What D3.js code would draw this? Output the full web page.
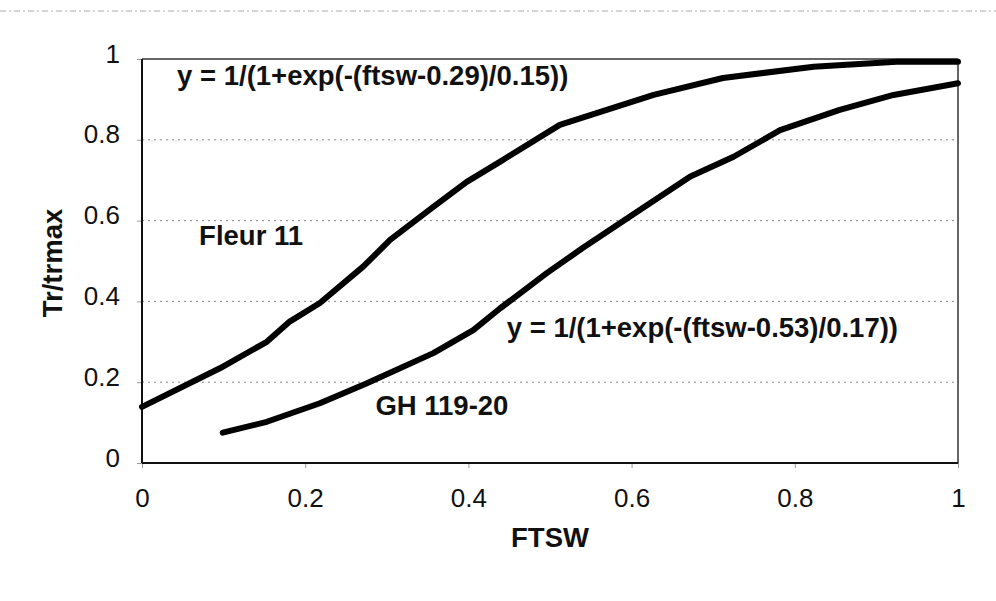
<!DOCTYPE html>
<html>
<head>
<meta charset="utf-8">
<script src="https://cdn.jsdelivr.net/npm/d3@7"></script>
<style>
  body { margin: 0; background: #fff; }
  .tickText { font-family: "Liberation Sans", Arial, sans-serif; font-size: 26px; fill: #111; }
  .boldText { font-family: "Liberation Sans", Arial, sans-serif; font-size: 27.5px; font-weight: bold; fill: #111; }
  .grid { stroke: #888; stroke-width: 1; stroke-dasharray: 2,4; }
  .curve { fill: none; stroke: #000; stroke-width: 6; stroke-linejoin: round; stroke-linecap: round; }
</style>
</head>
<body>
<div id="chart"></div>
<script>

// axis ticks
var xTicks = [0, 0.2, 0.4, 0.6, 0.8, 1];
var yTicks = [0, 0.2, 0.4, 0.6, 0.8, 1];

// Fleur 11 curve
var fleurX = [0, 0.096, 0.153, 0.181, 0.218, 0.271, 0.304, 0.357, 0.398, 0.439, 0.512, 0.627, 0.712, 0.823, 0.925, 1.0];
var fleurY = [0.139, 0.235, 0.30, 0.35, 0.396, 0.486, 0.552, 0.634, 0.696, 0.746, 0.837, 0.911, 0.953, 0.981, 0.993, 0.993];

// GH 119-20 curve
var ghX = [0.099, 0.153, 0.218, 0.275, 0.357, 0.406, 0.439, 0.496, 0.54, 0.61, 0.672, 0.725, 0.782, 0.855, 0.921, 1.0];
var ghY = [0.075, 0.102, 0.148, 0.197, 0.272, 0.329, 0.383, 0.47, 0.532, 0.626, 0.709, 0.758, 0.824, 0.874, 0.911, 0.94];

// labels in the plot
var labels = [
  {text: "y = 1/(1+exp(-(ftsw-0.29)/0.15))", fx: 0.043, fy: 0.935},
  {text: "Fleur 11", fx: 0.070, fy: 0.540},
  {text: "GH 119-20", fx: 0.286, fy: 0.119},
  {text: "y = 1/(1+exp(-(ftsw-0.53)/0.17))", fx: 0.447, fy: 0.312}
];

var margin = {top: 59, right: 38, bottom: 138, left: 142};
var width = 996 - margin.left - margin.right,
    height = 601 - margin.top - margin.bottom;

var svg = d3.select("#chart").append("svg")
    .attr("width", 996)
    .attr("height", 601);

// faint scan line at the top of the page
svg.append("line")
    .attr("x1", 0).attr("x2", 996)
    .attr("y1", 11).attr("y2", 11)
    .attr("stroke", "#aaa")
    .attr("stroke-dasharray", "6,3,2,3");

var g = svg.append("g")
    .attr("transform", "translate(" + margin.left + "," + margin.top + ")");

var x = d3.scaleLinear().domain([0, 1]).range([0, width]);
var y = d3.scaleLinear().domain([0, 1]).range([height, 0]);

// gridlines
g.selectAll(".grid")
    .data(yTicks.filter(function(d) { return d > 0 && d < 1; }))
    .enter().append("line")
    .attr("class", "grid")
    .attr("x1", 0).attr("x2", width)
    .attr("y1", function(d) { return y(d); })
    .attr("y2", function(d) { return y(d); });

// axes
var xAxis = d3.axisBottom(x).tickValues(xTicks).tickSize(5).tickPadding(20)
    .tickFormat(function(d) { return d3.format("")(d); });
var yAxis = d3.axisLeft(y).tickValues(yTicks).tickSize(5).tickPadding(17)
    .tickFormat(function(d) { return d3.format("")(d); });

var gx = g.append("g")
    .attr("transform", "translate(0," + height + ")")
    .call(xAxis);
var gy = g.append("g").call(yAxis);

[gx, gy].forEach(function(a) {
  a.select(".domain").remove();
  a.selectAll(".tick line").attr("stroke", "#999");
  a.selectAll(".tick text").attr("class", "tickText").attr("font-size", null).attr("font-family", null);
});
gx.selectAll(".tick text").attr("dy", "0.71em").attr("y", 26);
gy.selectAll(".tick text").attr("dy", "0.12em");

// frame
g.append("line").attr("x1", 0).attr("x2", width).attr("y1", 0).attr("y2", 0)
    .attr("stroke", "#333").attr("stroke-width", 1.5);
g.append("line").attr("x1", width).attr("x2", width).attr("y1", 0).attr("y2", height)
    .attr("stroke", "#333").attr("stroke-width", 1.5);
g.append("line").attr("x1", 0).attr("x2", 0).attr("y1", 0).attr("y2", height)
    .attr("stroke", "#111").attr("stroke-width", 2);
g.append("line").attr("x1", 0).attr("x2", width).attr("y1", height).attr("y2", height)
    .attr("stroke", "#111").attr("stroke-width", 2);

// curves
var line = d3.line()
    .x(function(d) { return x(d[0]); })
    .y(function(d) { return y(d[1]); });

g.append("path")
    .datum(d3.zip(fleurX, fleurY))
    .attr("class", "curve")
    .attr("d", line);

g.append("path")
    .datum(d3.zip(ghX, ghY))
    .attr("class", "curve")
    .attr("d", line);

// labels
g.selectAll(".lbl")
    .data(labels)
    .enter().append("text")
    .attr("class", "boldText lbl")
    .attr("x", function(d) { return x(d.fx); })
    .attr("y", function(d) { return y(d.fy); })
    .text(function(d) { return d.text; });

// axis titles
g.append("text")
    .attr("class", "boldText")
    .attr("text-anchor", "middle")
    .attr("x", width / 2)
    .attr("y", height + 84)
    .text("FTSW");

g.append("text")
    .attr("class", "boldText")
    .attr("text-anchor", "middle")
    .attr("transform", "translate(-80," + (263 - margin.top) + ")rotate(-90)")
    .text("Tr/trmax");

</script>
</body>
</html>
